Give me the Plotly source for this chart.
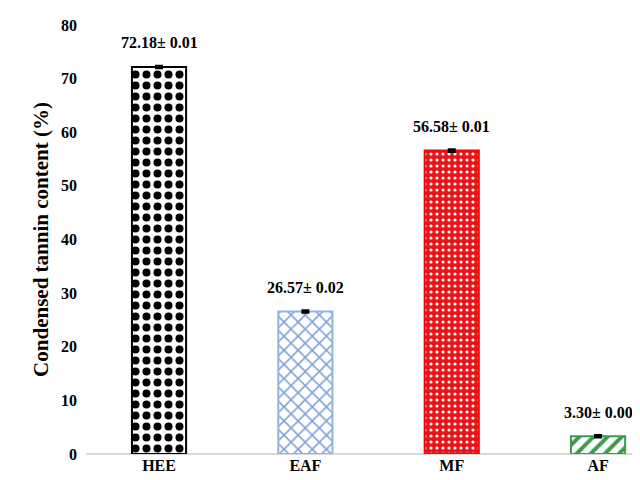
import plotly.graph_objects as go

categories = ["HEE", "EAF", "MF", "AF"]
values = [72.18, 26.57, 56.58, 3.30]
errors = [0.01, 0.02, 0.01, 0.00]
labels = ["72.18± 0.01", "26.57± 0.02", "56.58± 0.01", "3.30± 0.00"]

line_colors = ["#000000", "#8EB4E3", "#FF0000", "#33A04A"]
fg_colors = ["#000000", "#7FA3DC", "#FFFFFF", "#3E9A4A"]
bg_colors = ["#FFFFFF", "#FFFFFF", "#E8141A", "#FFFFFF"]
shapes = [".", "x", ".", "/"]
solidities = [0.42, 0.3, 0.22, 0.4]
sizes = [11, 10, 6, 10]

fig = go.Figure()
for i, c in enumerate(categories):
    fig.add_trace(go.Bar(
        x=[i], y=[values[i]], width=0.37,
        marker=dict(
            color=bg_colors[i],
            line=dict(color=line_colors[i], width=2),
            pattern=dict(shape=shapes[i], fgcolor=fg_colors[i], bgcolor=bg_colors[i],
                         fgopacity=1, size=sizes[i], solidity=solidities[i],
                         fillmode="overlay"),
        ),
        error_y=dict(type="data", array=[max(errors[i], 0.15)], color="black",
                     thickness=3, width=4),
        showlegend=False,
    ))
    fig.add_annotation(x=i, y=values[i], text=labels[i], showarrow=False,
                       yshift=24, font=dict(family="Liberation Serif", size=16,
                                            color="#000", weight="bold"))

fig.update_layout(
    width=640, height=480,
    margin=dict(l=78, r=5, t=17, b=34),
    paper_bgcolor="white", plot_bgcolor="white",
    font=dict(family="Liberation Serif", color="#000"),
    xaxis=dict(range=[-0.499, 3.307], tickvals=list(range(4)), ticktext=categories,
               showgrid=False, zeroline=False, showline=False, ticks="",
               tickfont=dict(size=16, family="Liberation Serif", weight="bold")),
    yaxis=dict(range=[0, 80], dtick=10, showgrid=False, zeroline=True,
               zerolinecolor="#D9D9D9", zerolinewidth=2, showline=False, ticks="",
               ticklabelstandoff=8,
               tickfont=dict(size=16, family="Liberation Serif", weight="bold"),
               title=dict(text="Condensed tannin content (%)", standoff=6,
                          font=dict(size=21, family="Liberation Serif", weight="bold"))),
)
fig.write_html("out.html")
